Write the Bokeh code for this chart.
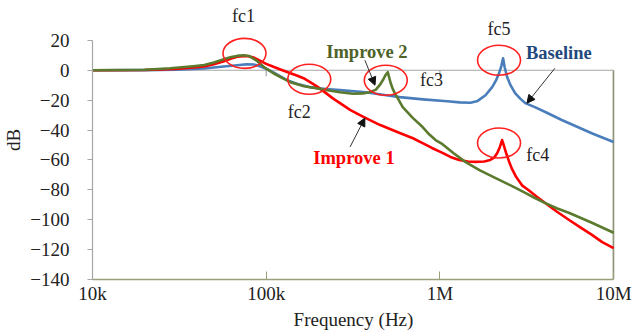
from bokeh.plotting import figure
from bokeh.models import Range1d, FixedTicker, Arrow, NormalHead
from bokeh.core.properties import value
from bokeh.embed import file_html
from bokeh.resources import INLINE

# ---------------- data ----------------
base_f = [1e4, 2e4, 3e4, 3.8e4, 4.4e4, 5e4, 5.7e4, 6.8e4, 7.7e4, 8.5e4, 9.2e4, 1.0e5, 1.1e5,
          1.2e5, 1.31e5, 1.5e5, 1.79e5, 2.2e5, 2.66e5, 3.75e5, 4.8e5, 5.87e5, 8e5, 1.1e6,
          1.3e6, 1.5e6, 1.65e6, 1.83e6, 2.0e6, 2.1e6, 2.19e6, 2.26e6, 2.31e6, 2.36e6, 2.44e6,
          2.55e6, 2.71e6, 2.9e6, 3.1e6, 3.52e6, 4.1e6, 5.03e6, 6.3e6, 7.6e6, 1e7]
base_db = [0, 0.1, 0.4, 0.8, 1.2, 1.8, 2.5, 3.4, 4.0, 3.8, 2.6, 1.0, -1.5,
           -4, -6.5, -9, -11.3, -12.5, -13.3, -14.7, -16.5, -18, -19.5, -20.7,
           -21.5, -21.7, -20.5, -16.7, -11.3, -7, -2, 3, 8, 2, -4.7,
           -10, -15.3, -19, -22, -24.7, -28.3, -33.3, -38.3, -42.5, -48]

imp1_f = [1e4, 2e4, 3e4, 3.8e4, 4.4e4, 5e4, 5.7e4, 6.3e4, 6.8e4, 7.7e4, 8.5e4, 9.2e4,
          1.0e5, 1.1e5, 1.24e5, 1.38e5, 1.5e5, 1.64e5, 1.79e5, 2.0e5, 2.21e5, 2.43e5,
          2.66e5, 3.04e5, 3.4e5, 3.75e5, 4.5e5, 5.87e5, 7e5, 7.95e5, 9e5, 1.035e6, 1.15e6,
          1.29e6, 1.45e6, 1.6e6, 1.8e6, 1.95e6, 2.05e6, 2.14e6, 2.22e6, 2.28e6, 2.33e6,
          2.37e6, 2.4e6, 2.5e6, 2.6e6, 2.75e6, 2.97e6, 3.26e6, 3.6e6, 4.02e6, 4.7e6,
          5.52e6, 6.4e6, 7.47e6, 8.6e6, 1e7]
imp1_db = [0, 0.2, 0.8, 1.8, 2.6, 4, 6, 7.8, 9, 9.5, 8.5, 6.5,
           4.3, 2.3, 0, -2, -3.5, -5.3, -8, -11.5, -15.3, -19,
           -22, -26.5, -29.5, -32, -36.5, -42, -45.5, -48.7, -52, -55.3, -58,
           -60, -61, -61.3, -61, -60, -58.5, -55.3, -51, -46.7, -50,
           -53, -55, -61, -66, -71.5, -77, -80.5, -84.5, -88.7, -94.5,
           -100, -105, -110, -115, -119]

imp2_f = [1e4, 2e4, 2.8e4, 3.8e4, 4.4e4, 5e4, 5.7e4, 6.3e4, 6.8e4, 7.4e4, 8e4, 8.8e4,
          9.66e4, 1.1e5, 1.24e5, 1.38e5, 1.65e5, 1.94e5, 2.3e5, 2.66e5, 3.16e5, 3.6e5,
          4.0e5, 4.28e5, 4.5e5, 4.69e5, 4.88e5, 5.01e5, 5.11e5, 5.21e5, 5.35e5, 5.5e5,
          5.8e5, 6.11e5, 7e5, 7.95e5, 8.7e5, 9.44e5, 1.035e6, 1.2e6, 1.4e6, 1.7e6, 2.08e6,
          2.4e6, 2.71e6, 3.1e6, 3.5e6, 4.02e6, 4.7e6, 5.52e6, 7.5e6, 1e7]
imp2_db = [0, 0.3, 1.3, 2.7, 3.5, 5.2, 7.3, 8.8, 9.6, 10, 9.5, 6.5,
           2.3, -2, -5.3, -8, -10.7, -12, -13.5, -14.7, -15.7, -15.5,
           -14.5, -13, -10, -6.7, -3, -1.3, -5, -8.7, -12.5, -15.3,
           -20, -24.7, -32, -38, -43, -46.7, -49.5, -55.5, -61.3, -67, -72,
           -75.5, -78.5, -82, -85.3, -88.7, -92.3, -95.3, -102, -108.7]

# resonance markers (fc1..fc5)
fc_names = ["fc1", "fc2", "fc3", "fc4", "fc5"]
fc_ell_f = [7.5e4, 1.77e5, 4.88e5, 2.19e6, 2.19e6]
fc_ell_db = [11.3, -6, -6.7, -48.7, 6.7]
fc_lab_f = [7.41e4, 1.55e5, 8.95e5, 3.66e6, 2.19e6]
fc_lab_db = [36, -28, -6.7, -56.7, 27.3]

series_names = ["Baseline", "Improve 1", "Improve 2"]
series_colors = ["#4a7ebb", "#ff0000", "#5b7a2e"]
label_colors = ["#1f497d", "#ff0000", "#4f6228"]
label_f = [4.84e6, 3.2e5, 3.8e5]
label_db = [11.3, -58.7, 12]
arrow_start_f = [4.59e6, 3.04e5, 3.7e5]
arrow_start_db = [1.3, -51.3, 6.7]
arrow_end_f = [3.17e6, 3.7e5, 4.23e5]
arrow_end_db = [-22, -32, -10]

x_ticks = [1e4, 1e5, 1e6, 1e7]
x_tick_labels = ["10k", "100k", "1M", "10M"]
y_ticks = [-140, -120, -100, -80, -60, -40, -20, 0, 20]

FONT = "Liberation Serif"
TXT = "#222222"

# ---------------- figure ----------------
p = figure(width=644, height=332, x_axis_type="log",
           x_range=Range1d(x_ticks[0], x_ticks[-1] * 1.012),
           y_range=Range1d(y_ticks[0], 46.67),
           output_backend="svg", toolbar_location=None,
           min_border_left=88, min_border_right=30, min_border_top=0, min_border_bottom=52)
p.outline_line_color = None
p.xgrid.visible = False
p.ygrid.visible = False
p.background_fill_color = "white"
p.border_fill_color = "white"

# x axis
xa = p.xaxis[0]
xa.ticker = FixedTicker(ticks=x_ticks, minor_ticks=[])
xa.major_label_overrides = {t: l for t, l in zip(x_ticks, x_tick_labels)}
xa.bounds = (x_ticks[0], x_ticks[-1])
xa.axis_line_color = "#98a07a"
xa.axis_line_width = 1.5
xa.major_tick_line_color = "#98a07a"
xa.major_tick_in = 8
xa.major_tick_out = 0
xa.minor_tick_line_color = None
xa.major_label_standoff = 3
xa.major_label_text_font = FONT
xa.major_label_text_font_size = "19px"
xa.major_label_text_color = TXT
xa.axis_label = "Frequency (Hz)"
xa.axis_label_text_font = FONT
xa.axis_label_text_font_size = "19px"
xa.axis_label_text_font_style = "normal"
xa.axis_label_text_color = TXT
xa.axis_label_standoff = 2

# y axis
ya = p.yaxis[0]
ya.ticker = FixedTicker(ticks=y_ticks, minor_ticks=[])
ya.bounds = (y_ticks[0], y_ticks[-1])
ya.axis_line_color = "#a6a6a6"
ya.axis_line_width = 1.2
ya.major_tick_line_color = "#a6a6a6"
ya.major_tick_in = 0
ya.major_tick_out = 5
ya.minor_tick_line_color = None
ya.major_label_standoff = 18
ya.major_label_text_font = FONT
ya.major_label_text_font_size = "19px"
ya.major_label_text_color = TXT
ya.axis_label = "dB"
ya.axis_label_text_font = FONT
ya.axis_label_text_font_size = "19px"
ya.axis_label_text_font_style = "normal"
ya.axis_label_text_color = TXT
ya.axis_label_standoff = 3

# right border line (from 0 dB down to the bottom, at the last x tick)
p.segment(x0=[x_ticks[-1]], y0=[0], x1=[x_ticks[-1]], y1=[y_ticks[0]],
          line_color="#8f9478", line_width=2)

# 0 dB line with small tick marks
p.segment(x0=[x_ticks[0]], y0=[0], x1=[x_ticks[-1]], y1=[0],
          line_color="#a6a6a6", line_width=1.2)
inner = x_ticks[1:-1]
p.segment(x0=inner, y0=[0] * len(inner), x1=inner, y1=[-4] * len(inner),
          line_color="#a6a6a6", line_width=1.2)

# curves
for f, db, c in zip([base_f, imp1_f, imp2_f], [base_db, imp1_db, imp2_db], series_colors):
    p.line(f, db, line_color=c, line_width=2.6, line_join="round")

# ellipses
p.ellipse(x=fc_ell_f, y=fc_ell_db, width=43, height=30, width_units="screen",
          height_units="screen", fill_color=None, line_color="#ff2020", line_width=1.6)

# fc labels
p.text(x=fc_lab_f, y=fc_lab_db, text=fc_names, text_font=value(FONT),
       text_font_size="18px", text_color=TXT, text_align="center",
       text_baseline="middle")

# series labels
p.text(x=label_f, y=label_db, text=series_names, text_font=value(FONT),
       text_font_size="18.5px", text_font_style="bold", text_color=label_colors,
       text_align="center", text_baseline="middle")

# arrows
for xs, ys, xe, ye in zip(arrow_start_f, arrow_start_db, arrow_end_f, arrow_end_db):
    p.add_layout(Arrow(x_start=xs, y_start=ys, x_end=xe, y_end=ye,
                       line_color="#333333", line_width=1,
                       end=NormalHead(size=8, fill_color="#111111", line_color="#111111")))

open("out.html", "w").write(file_html(p, INLINE))
